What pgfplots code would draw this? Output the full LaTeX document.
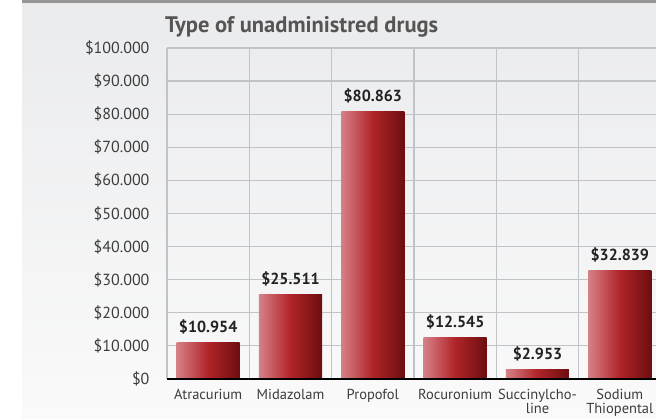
\documentclass[border=0pt]{standalone}
\usepackage{fontspec}
\setmainfont{PT Sans}
\usepackage{pgfplots}
\pgfplotsset{compat=1.18}
\definecolor{barL}{RGB}{214,128,135}
\definecolor{barM}{RGB}{176,36,40}
\definecolor{barR}{RGB}{108,14,16}
\definecolor{gridc}{RGB}{192,195,200}
\definecolor{titlec}{RGB}{85,85,85}
\definecolor{tickc}{RGB}{60,60,60}
\definecolor{bgtop}{RGB}{234,235,237}
\definecolor{bgbot}{RGB}{250,250,250}
\definecolor{topbar}{RGB}{150,150,150}
\definecolor{lblc}{RGB}{34,34,34}
\begin{document}
\begin{tikzpicture}[x=1pt,y=1pt]
\fill[white] (0,0) rectangle (656,419);
\shade[top color=bgtop, bottom color=bgbot] (22,0) rectangle (656,416);
\fill[topbar] (22,415.5) rectangle (656,419);
\begin{axis}[
  at={(167pt,40pt)}, anchor=south west,
  width=494pt, height=331pt, scale only axis,
  xmin=-0.5, xmax=5.5, ymin=0, ymax=100000,
  axis line style={draw=none},
  xtick={0,1,2,3,4,5},
  xticklabels={Atracurium,Midazolam,Propofol,Rocuronium,{Succinylcho-\\line},{Sodium\\Thiopental}},
  minor xtick={-0.5,0.5,1.5,2.5,3.5,4.5,5.5},
  xminorgrids, ymajorgrids,
  minor x grid style={gridc, line width=1.2pt},
  major y grid style={gridc, line width=1.2pt},
  ytick={0,10000,20000,30000,40000,50000,60000,70000,80000,90000,100000},
  yticklabels={\$0,\$10.000,\$20.000,\$30.000,\$40.000,\$50.000,\$60.000,\$70.000,\$80.000,\$90.000,\$100.000},
  major tick length=0pt, minor tick length=0pt,
  yticklabel style={font=\fontsize{16}{16}\selectfont, text=tickc, xshift=-14pt},
  xticklabel style={font=\fontsize{14.5}{13.5}\selectfont, text=tickc, align=center, yshift=-7pt},
  scaled y ticks=false,
  bar width=63pt,
  nodes near coords,
  point meta=explicit symbolic,
  nodes near coords style={font=\bfseries\fontsize{16}{16}\selectfont, text=lblc, yshift=5pt},
  mybar/.style={ybar, bar shift=0pt, draw=none, mark=none, left color=barL, right color=barR, middle color=barM},
  clip=false,
]
\addplot[mybar] coordinates {(0,10954) [\$10.954]};
\addplot[mybar] coordinates {(1,25511) [\$25.511]};
\addplot[mybar] coordinates {(2,80863) [\$80.863]};
\addplot[mybar] coordinates {(3,12545) [\$12.545]};
\addplot[mybar] coordinates {(4,2953) [\$2.953]};
\addplot[mybar] coordinates {(5,32839) [\$32.839]};
\draw[black, line width=1.3pt] (axis cs:-0.5,0) -- (axis cs:5.5,0);
\end{axis}
\node[anchor=base west, inner sep=0, font=\bfseries\fontsize{22.5}{22.5}\selectfont, text=titlec] at (165,386) {Type of unadministred drugs};
\pgfresetboundingbox
\useasboundingbox (0,0) rectangle (656,419);
\end{tikzpicture}
\end{document}
